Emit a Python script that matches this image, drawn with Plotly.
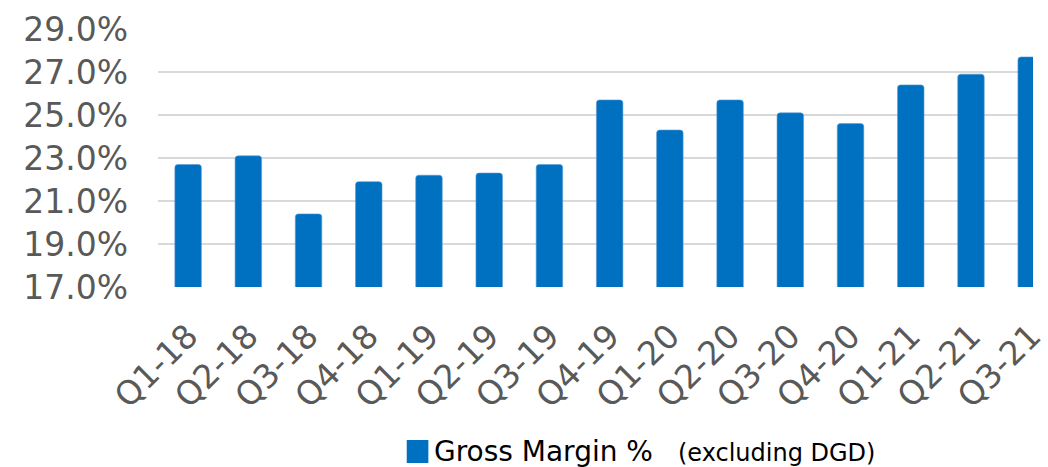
import plotly.graph_objects as go

quarters = ["Q1-18", "Q2-18", "Q3-18", "Q4-18", "Q1-19", "Q2-19", "Q3-19", "Q4-19",
            "Q1-20", "Q2-20", "Q3-20", "Q4-20", "Q1-21", "Q2-21", "Q3-21"]
gross_margin = [22.7, 23.1, 20.4, 21.9, 22.2, 22.3, 22.7, 25.7,
                24.3, 25.7, 25.1, 24.6, 26.4, 26.9, 27.7]
y_ticks = [17, 19, 21, 23, 25, 27, 29]
y_tick_labels = [f"{v:.1f}%" for v in y_ticks]

BLUE = "#0070C0"
GRAY = "#595959"
FONT = "DejaVu Sans"

W, H = 1048, 467
L, R, T, B = 158, 0, 29, 180
pw, ph = W - L - R, H - T - B

def px(x):
    return (x - L) / pw

def py(y):
    return (H - B - y) / ph

fig = go.Figure()
fig.add_trace(go.Bar(
    x=quarters, y=gross_margin,
    marker=dict(color=BLUE, line=dict(color="#5b9bd5", width=0.6), cornerradius=3),
    showlegend=False,
))

fig.update_layout(
    width=W, height=H,
    margin=dict(l=L, r=R, t=T, b=B),
    plot_bgcolor="white", paper_bgcolor="white",
    bargap=0.56,
    font=dict(family=FONT, color=GRAY),
    xaxis=dict(
        range=[-0.5, 14.03],
        tickangle=-45,
        tickfont=dict(size=33, color=GRAY, family=FONT),
        showgrid=False, zeroline=False, showline=False,
        ticks="", ticklabelstandoff=22,
    ),
    yaxis=dict(
        range=[17, 29],
        tickvals=y_ticks, ticktext=y_tick_labels,
        tickfont=dict(size=33, color=GRAY, family=FONT),
        showgrid=True, gridcolor="#D9D9D9", gridwidth=1.5,
        zeroline=False, showline=False,
        ticks="", ticklabelstandoff=29,
    ),
    shapes=[dict(
        type="rect", xref="paper", yref="paper",
        x0=px(411), x1=px(433), y0=py(463), y1=py(440),
        fillcolor=BLUE, line=dict(width=0),
    )],
    annotations=[
        dict(text="Gross Margin %", xref="paper", yref="paper",
             x=px(437), y=py(451), xanchor="left", yanchor="middle",
             showarrow=False, font=dict(size=28, color="#000000", family=FONT)),
        dict(text="(excluding DGD)", xref="paper", yref="paper",
             x=px(685), y=py(453), xanchor="left", yanchor="middle",
             showarrow=False, font=dict(size=24, color="#000000", family=FONT)),
    ],
)

fig.write_html("out.html", config={"displayModeBar": False},
               post_script="document.body.style.margin='0';document.body.style.overflow='hidden';")
